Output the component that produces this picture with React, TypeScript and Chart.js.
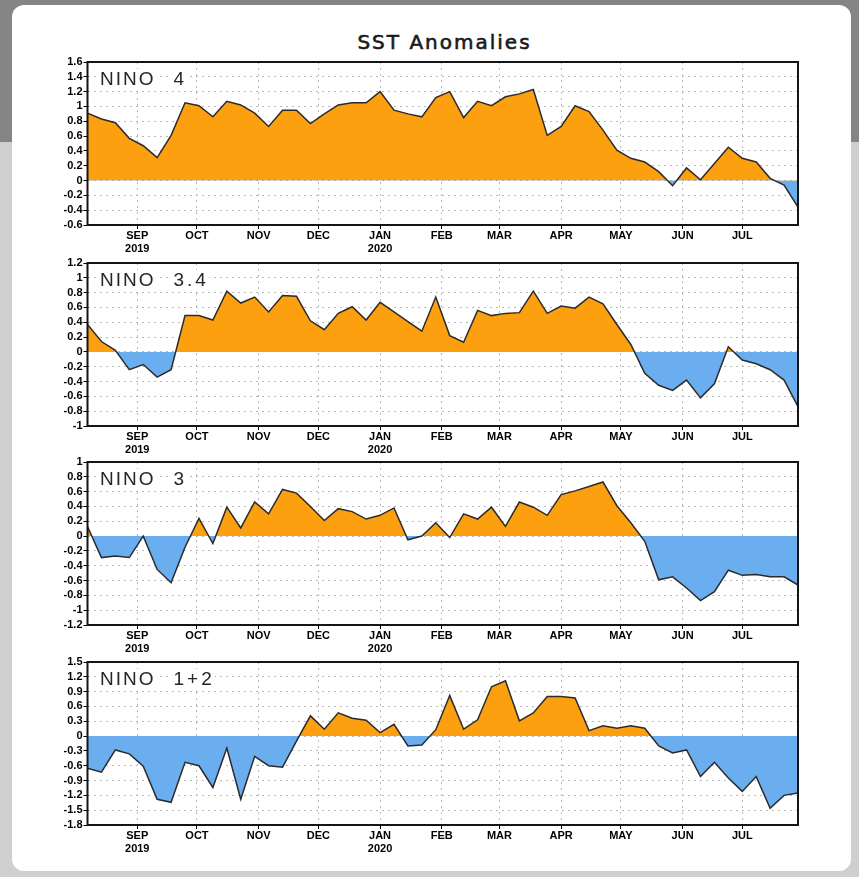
import React, { useEffect, useRef } from 'react';
import { Chart, registerables } from 'chart.js';

Chart.register(...registerables);

// ---- data ----
const firstWeek = '2019-08-07'; // centre of first weekly value
const weekCount = 52;

const monthStarts = ['2019-09-01', '2019-10-01', '2019-11-01', '2019-12-01', '2020-01-01', '2020-02-01', '2020-03-01', '2020-04-01', '2020-05-01', '2020-06-01', '2020-07-01'];
const monthLabels: (string | string[])[] = [['SEP', '2019'], 'OCT', 'NOV', 'DEC', ['JAN', '2020'], 'FEB', 'MAR', 'APR', 'MAY', 'JUN', 'JUL'];

const nino4 = [0.91, 0.83, 0.78, 0.57, 0.47, 0.31, 0.61, 1.05, 1.01, 0.86, 1.07, 1.02, 0.91, 0.73, 0.95, 0.95, 0.77, 0.9, 1.02, 1.05, 1.05, 1.2, 0.95, 0.9, 0.86, 1.12,
  1.2, 0.85, 1.07, 1.01, 1.13, 1.17, 1.23, 0.61, 0.73, 1.01, 0.93, 0.68, 0.41, 0.3, 0.25, 0.12, -0.07, 0.17, 0.01, 0.23, 0.45, 0.3, 0.25, 0.03, -0.06, -0.36];
const nino34 = [0.37, 0.14, 0.02, -0.24, -0.17, -0.34, -0.24, 0.49, 0.49, 0.43, 0.82, 0.66, 0.74, 0.54, 0.76, 0.75, 0.42, 0.3, 0.52, 0.61, 0.43, 0.67, 0.54, 0.41, 0.28, 0.74,
  0.22, 0.13, 0.56, 0.49, 0.52, 0.53, 0.82, 0.52, 0.62, 0.59, 0.74, 0.65, 0.37, 0.1, -0.29, -0.45, -0.52, -0.38, -0.62, -0.43, 0.07, -0.11, -0.16, -0.24, -0.38, -0.74];
const nino3 = [0.13, -0.29, -0.27, -0.29, 0.0, -0.45, -0.63, -0.15, 0.24, -0.1, 0.39, 0.11, 0.46, 0.3, 0.63, 0.58, 0.4, 0.21, 0.37, 0.33, 0.23, 0.28, 0.38, -0.05, 0.0, 0.18,
  -0.02, 0.3, 0.23, 0.39, 0.13, 0.46, 0.39, 0.28, 0.56, 0.61, 0.67, 0.73, 0.41, 0.18, -0.07, -0.59, -0.55, -0.7, -0.87, -0.75, -0.46, -0.53, -0.52, -0.55, -0.55, -0.66];
const nino12 = [-0.65, -0.73, -0.28, -0.36, -0.61, -1.28, -1.34, -0.53, -0.6, -1.04, -0.24, -1.28, -0.41, -0.6, -0.63, -0.1, 0.41, 0.14, 0.47, 0.36, 0.32, 0.07, 0.24, -0.2, -0.18, 0.13,
  0.82, 0.14, 0.33, 1.0, 1.12, 0.31, 0.47, 0.8, 0.8, 0.77, 0.11, 0.21, 0.16, 0.21, 0.16, -0.2, -0.34, -0.28, -0.82, -0.53, -0.85, -1.12, -0.82, -1.46, -1.2, -1.15];

const yTicks4 = [-0.6, -0.4, -0.2, 0, 0.2, 0.4, 0.6, 0.8, 1, 1.2, 1.4, 1.6];
const yTicks34 = [-1, -0.8, -0.6, -0.4, -0.2, 0, 0.2, 0.4, 0.6, 0.8, 1, 1.2];
const yTicks3 = [-1.2, -1, -0.8, -0.6, -0.4, -0.2, 0, 0.2, 0.4, 0.6, 0.8, 1];
const yTicks12 = [-1.8, -1.5, -1.2, -0.9, -0.6, -0.3, 0, 0.3, 0.6, 0.9, 1.2, 1.5];

const titleText = 'SST Anomalies';

// ---- styling / helpers ----
const ORANGE = '#FCA010';
const BLUE = '#6AAEF0';
const GRID = '#b8b8b8';
const DAY = 86400000;
const t0 = Date.parse(firstWeek);
const dayOf = (iso: string) => Math.round((Date.parse(iso) - t0) / DAY);
const weekDays = Array.from({ length: weekCount }, (_, i) => i * 7);
const monthDays = monthStarts.map(dayOf);
const xMax = weekDays[weekDays.length - 1];

const panels = [
  { word: 'NINO', suffix: '4', values: nino4, ticks: yTicks4, top: 62 },
  { word: 'NINO', suffix: '3.4', values: nino34, ticks: yTicks34, top: 263 },
  { word: 'NINO', suffix: '3', values: nino3, ticks: yTicks3, top: 462 },
  { word: 'NINO', suffix: '1+2', values: nino12, ticks: yTicks12, top: 662 },
];

const CANVAS_LEFT = 35;
const CANVAS_W = 775;
const PAD_TOP = 8;
const PLOT_H = 163;
const XAXIS_H = 33;
const YAXIS_W = 52.5;
const CANVAS_H = PAD_TOP + PLOT_H + XAXIS_H;

const tickFont = { family: '"Liberation Sans", Arial, sans-serif', weight: 'bold' as const, size: 11, lineHeight: 1.15 };

function drawWord(ctx: CanvasRenderingContext2D, text: string, x: number, baseline: number, spacing: number) {
  (ctx as any).letterSpacing = spacing + 'px';
  const w = ctx.measureText(text).width;
  ctx.fillStyle = '#ffffff';
  ctx.fillRect(x - 2, baseline - 16, w + 2, 20);
  ctx.fillStyle = '#262626';
  ctx.fillText(text, x, baseline);
  (ctx as any).letterSpacing = '0px';
}

function Panel({ word, suffix, values, ticks, top }: { word: string; suffix: string; values: number[]; ticks: number[]; top: number }) {
  const ref = useRef<HTMLCanvasElement>(null);
  useEffect(() => {
    if (!ref.current) return;
    const framePlugin = {
      id: 'frameAndLabel',
      afterDraw(chart: any) {
        const { ctx, chartArea } = chart;
        const { left, top: t, right, bottom } = chartArea;
        ctx.save();
        ctx.font = '19px "Liberation Sans", Arial, sans-serif';
        ctx.textBaseline = 'alphabetic';
        drawWord(ctx, word, left + 12.5, t + 23, 2);
        drawWord(ctx, suffix, left + 86, t + 23, 3);
        ctx.strokeStyle = '#151515';
        ctx.lineWidth = 2;
        ctx.strokeRect(left, t, right - left, bottom - t);
        ctx.restore();
      },
    };
    const chart = new Chart(ref.current, {
      type: 'line',
      data: {
        datasets: [
          {
            data: values.map((v, i) => ({ x: weekDays[i], y: v })),
            borderColor: '#2b2b2b',
            borderWidth: 1.5,
            pointRadius: 0,
            tension: 0,
            fill: { target: { value: 0 }, above: ORANGE, below: BLUE },
          } as any,
        ],
      },
      options: {
        animation: false,
        responsive: false,
        devicePixelRatio: 1,
        layout: { padding: { top: PAD_TOP, right: CANVAS_LEFT + CANVAS_W - 798, left: 0, bottom: 0 } },
        plugins: { legend: { display: false }, tooltip: { enabled: false } },
        scales: {
          x: {
            type: 'linear',
            min: 0,
            max: xMax,
            afterBuildTicks: (s: any) => {
              s.ticks = monthDays.map((v) => ({ value: v }));
            },
            afterFit: (s: any) => {
              s.height = XAXIS_H;
            },
            ticks: {
              autoSkip: false,
              maxRotation: 0,
              padding: 1,
              color: '#000',
              font: tickFont,
              callback: (_v: any, i: number) => monthLabels[i],
            },
            grid: { color: GRID, lineWidth: 1, tickLength: 4, tickColor: '#000', tickBorderDash: [] } as any,
            border: { display: false, dash: [2, 4] },
          },
          y: {
            min: ticks[0],
            max: ticks[ticks.length - 1],
            afterBuildTicks: (s: any) => {
              s.ticks = ticks.map((v) => ({ value: v }));
            },
            afterFit: (s: any) => {
              s.width = YAXIS_W;
            },
            ticks: {
              autoSkip: false,
              padding: 1,
              color: '#000',
              font: { ...tickFont, lineHeight: 1 },
              callback: (v: any) => String(v),
            },
            grid: { color: GRID, lineWidth: 1, tickLength: 4, tickColor: '#000', tickBorderDash: [] } as any,
            border: { display: false, dash: [2, 4] },
          },
        },
      } as any,
      plugins: [framePlugin],
    });
    return () => chart.destroy();
  }, []);
  return (
    <canvas
      ref={ref}
      width={CANVAS_W}
      height={CANVAS_H}
      style={{ position: 'absolute', left: CANVAS_LEFT, top: top - PAD_TOP, width: CANVAS_W, height: CANVAS_H }}
    />
  );
}

export default function App() {
  return (
    <div style={{ position: 'fixed', left: 0, top: 0, width: 859, height: 877, overflow: 'hidden', background: '#cfcfcf' }}>
      <div style={{ position: 'absolute', left: 0, top: 0, width: 859, height: 142, background: '#858585' }} />
      <div style={{ position: 'absolute', left: 12, top: 5, width: 839, height: 866, background: '#ffffff', borderRadius: 12 }} />
      <div
        style={{
          position: 'absolute',
          left: 0,
          width: 889,
          top: 30,
          textAlign: 'center',
          font: '20px "DejaVu Sans", sans-serif',
          letterSpacing: '2px',
          lineHeight: '24px',
          color: '#1a1a1a',
          WebkitTextStroke: '0.6px #1a1a1a',
        }}
      >
        {titleText}
      </div>
      {panels.map((p) => (
        <Panel key={p.suffix} {...p} />
      ))}
    </div>
  );
}
